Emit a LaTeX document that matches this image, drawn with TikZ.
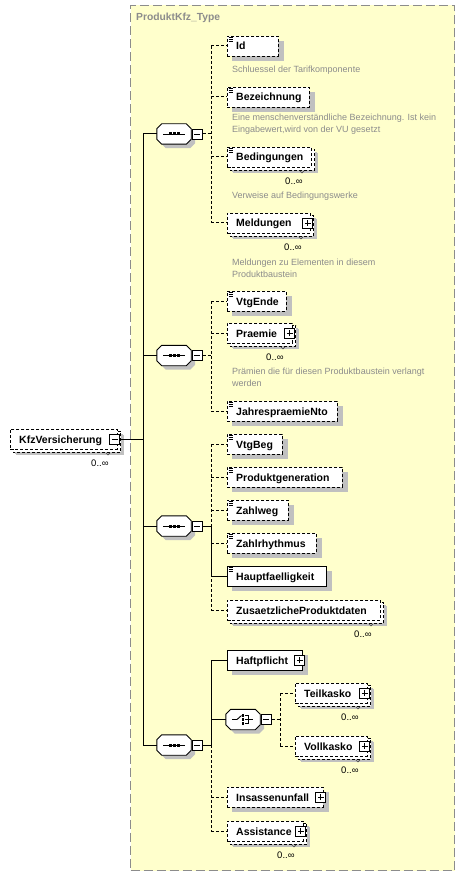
\documentclass[tikz,border=0pt]{standalone}
\usepackage{fontspec}
\setmainfont{Liberation Sans}
\usetikzlibrary{calc}
\definecolor{bgyellow}{HTML}{FFFFCC}
\definecolor{shadowc}{HTML}{C0C0C0}
\definecolor{descc}{HTML}{8C8C8C}
\definecolor{framec}{HTML}{8C8C8C}
\pgfdeclarelayer{bglayer}\pgfdeclarelayer{shadowlayer}\pgfdeclarelayer{backlayer}
\pgfsetlayers{bglayer,shadowlayer,backlayer,main}
\tikzset{
  ebox/.style={draw=black, fill=white, minimum height=20pt, inner sep=0pt, anchor=west, line width=0.9pt},
  opt/.style={dash pattern=on 3pt off 2pt},
  etext/.style={anchor=west, inner sep=0pt, font=\fontsize{10.5}{12}\selectfont\bfseries, text height=8pt, text depth=0pt},
  desc/.style={anchor=west, inner sep=0pt, align=left, font=\fontsize{9}{12}\selectfont, text=descc},
  mult/.style={inner sep=0pt, font=\fontsize{9.5}{11}\selectfont},
  conn/.style={line width=1pt},
  pm/.style={draw=black, fill=white, minimum size=10pt, inner sep=0pt, line width=0.9pt},
  octbox/.style={minimum width=34pt, minimum height=20pt, inner sep=0pt}
}
\newcommand\octpath[3]{($(#1.north west)+(5pt+#2,0pt-#3)$) -- ($(#1.north east)+(-5pt+#2,0pt-#3)$) -- ($(#1.north east)+(#2,-5pt-#3)$) -- ($(#1.south east)+(#2,5pt-#3)$) -- ($(#1.south east)+(-5pt+#2,0pt-#3)$) -- ($(#1.south west)+(5pt+#2,0pt-#3)$) -- ($(#1.south west)+(#2,5pt-#3)$) -- ($(#1.north west)+(#2,-5pt-#3)$) -- cycle}
\newcommand\minusb[2]{%
  \node[pm] (#1) at (#2) {};
  \draw[line width=0.9pt] ($(#1.center)+(-3pt,0pt)$) -- ($(#1.center)+(3pt,0pt)$);}
\newcommand\plusb[1]{%
  \node[pm] (#1-p) at ($(#1.east)+(-3pt,0pt)$) {};
  \draw[line width=0.9pt] ($(#1-p.center)+(-3pt,0pt)$) -- ($(#1-p.center)+(3pt,0pt)$)
    ($(#1-p.center)+(0pt,-3pt)$) -- ($(#1-p.center)+(0pt,3pt)$);}
\newcommand\octa[2]{%
  \node[octbox] (#1) at (#2) {};
  \begin{pgfonlayer}{shadowlayer}\fill[shadowc] \octpath{#1}{4pt}{4pt};\end{pgfonlayer}
  \draw[fill=white, line width=0.9pt] \octpath{#1}{0pt}{0pt};
  \minusb{#1-m}{$(#1.east)+(6pt,0pt)$}}
\newcommand\seqicon[1]{%
  \draw[line width=0.9pt] ($(#1.center)+(-11pt,0pt)$) -- ($(#1.center)+(11pt,0pt)$);
  \foreach \dx in {-4,0,4} \fill ($(#1.center)+(\dx pt-1.5pt,-1.5pt)$) rectangle ++(3pt,3pt);}
\newcommand\choiceicon[1]{%
  \draw[line width=0.9pt] ($(#1.center)+(-11pt,0pt)$) -- ($(#1.center)+(-6pt,0pt)$) -- ($(#1.center)+(-1.5pt,4pt)$);
  \foreach \dy in {-4,0,4} \fill ($(#1.center)+(-0.2pt,\dy pt)+(-1.2pt,-1.2pt)$) rectangle ++(2.4pt,2.4pt);
  \draw[line width=0.9pt] ($(#1.center)+(1.5pt,4pt)$) -- ($(#1.center)+(5pt,4pt)$) -- ($(#1.center)+(5pt,-4pt)$) -- ($(#1.center)+(1.5pt,-4pt)$)
    ($(#1.center)+(1.5pt,0pt)$) -- ($(#1.center)+(10pt,0pt)$);}
\newcommand\elem[5][]{%
  \node[ebox,minimum width=#4pt,#1] (#2) at (#3) {};
  \node[etext] (#2-t) at ([xshift=9pt]#2.west) {#5};
  \begin{pgfonlayer}{shadowlayer}
    \fill[shadowc] ($(#2.north west)+(5pt,-5pt)$) rectangle ($(#2.south east)+(5pt,-5pt)$);
  \end{pgfonlayer}}
\newcommand\multi[1]{%
  \begin{pgfonlayer}{shadowlayer}
    \fill[shadowc] ($(#1.north west)+(6pt,-6pt)$) rectangle ($(#1.south east)+(6pt,-6pt)$);
  \end{pgfonlayer}
  \begin{pgfonlayer}{backlayer}
    \draw[fill=white, opt, line width=0.9pt] ($(#1.north west)+(3pt,-3pt)$) rectangle ($(#1.south east)+(3pt,-3pt)$);
  \end{pgfonlayer}
  \draw[line width=0.6pt, black!70] ($(#1.south east)+(-12pt,-3.5pt)$) -- ($(#1.south east)+(-10pt,-5.5pt)$) -- ($(#1.south east)+(-8pt,-3.5pt)$);
  \node[mult] (#1-m) at ($(#1.south east)+(-18pt,-14pt)$) {0..∞};}
\newcommand\simp[1]{%
  \foreach \yy in {2,3.8,5.6} \draw[line width=0.6pt] ($(#1.north west)+(1.5pt,-\yy pt)$) -- ++(4.5pt,0pt);}
\begin{document}
\begin{tikzpicture}[x=1pt,y=-1pt]
\useasboundingbox (0,0) rectangle (465,877);
\begin{pgfonlayer}{bglayer}
  \fill[white] (0,0) rectangle (465,877);
  \node[draw=framec, fill=bgyellow, dash pattern=on 9pt off 4pt, line width=1pt,
        minimum width=324pt, minimum height=865pt, inner sep=0pt, anchor=north west] (ktype) at (130,5) {};
\end{pgfonlayer}
\node[anchor=west, inner sep=0pt, font=\fontsize{10.3}{12}\selectfont\bfseries, text=framec] (title) at (136,18) {ProduktKfz\_Type};

% root element
\elem[opt]{kfz}{10,439}{107}{KfzVersicherung}
\multi{kfz}
\minusb{kfz-mb}{$(kfz.east)+(-3pt,0pt)$}

% sequences
\octa{s1}{174,134}\seqicon{s1}
\octa{s2}{174,355.5}\seqicon{s2}
\octa{s3}{174,526}\seqicon{s3}
\octa{s4}{174,745}\seqicon{s4}

% spine
\coordinate (sp) at (143,439);
\draw[conn] (kfz-mb.east) -- (sp);
\draw[conn] (sp |- s1.west) -- (sp |- s4.west);
\foreach \s in {s1,s2,s3,s4} \draw[conn] (sp |- \s.west) -- (\s.west);

% sequence 1
\elem[opt]{id}{227,46}{51}{Id}\simp{id}
\elem[opt]{bez}{227,97}{82}{Bezeichnung}\simp{bez}
\elem[opt]{bed}{227,157}{84}{Bedingungen}\simp{bed}\multi{bed}
\elem[opt]{meld}{227,223}{83}{Meldungen}\multi{meld}\plusb{meld}
\node[desc] (id-d) at (232,70) {Schluessel der Tarifkomponente};
\node[desc] (bez-d) at (232,124) {Eine menschenverständliche Bezeichnung. Ist kein\\Eingabewert,wird von der VU gesetzt};
\node[desc] (bed-d) at (232,196) {Verweise auf Bedingungswerke};
\node[desc] (meld-d) at (232,268) {Meldungen zu Elementen in diesem\\Produktbaustein};
\coordinate (j1) at (211,134);
\draw[conn,opt] (s1-m.east) -- (j1);
\draw[conn,opt] (j1 |- id.west) -- (j1 |- meld.west);
\foreach \c in {id,bez,bed,meld} \draw[conn,opt] (j1 |- \c.west) -- (\c.west);

% sequence 2
\elem[opt]{vtgende}{227,301}{59}{VtgEnde}\simp{vtgende}
\elem[opt]{praemie}{227,333}{65}{Praemie}\multi{praemie}\plusb{praemie}
\elem[opt]{jahr}{227,411}{110}{JahrespraemieNto}\simp{jahr}
\node[desc] (pr-d) at (232,377.5) {Prämien die für diesen Produktbaustein verlangt\\werden};
\coordinate (j2) at (211,355.5);
\draw[conn,opt] (s2-m.east) -- (j2);
\draw[conn,opt] (j2 |- vtgende.west) -- (j2 |- jahr.west);
\foreach \c in {vtgende,praemie,jahr} \draw[conn,opt] (j2 |- \c.west) -- (\c.west);

% sequence 3
\elem[opt]{vtgbeg}{227,444}{55}{VtgBeg}\simp{vtgbeg}
\elem[opt]{prodgen}{227,477}{115}{Produktgeneration}\simp{prodgen}
\elem[opt]{zahlweg}{227,510}{61}{Zahlweg}\simp{zahlweg}
\elem[opt]{zahlr}{227,543}{89}{Zahlrhythmus}\simp{zahlr}
\elem{haupt}{227,576}{99}{Hauptfaelligkeit}\simp{haupt}
\elem[opt]{zusatz}{227,610}{153}{ZusaetzlicheProduktdaten}\multi{zusatz}
\coordinate (j3) at (211,526);
\draw[conn] (s3-m.east) -- (j3);
\draw[conn,opt] (j3 |- vtgbeg.west) -- (j3 |- zusatz.west);
\draw[conn] (j3) -- (j3 |- haupt.west) -- (haupt.west);
\foreach \c in {vtgbeg,prodgen,zahlweg,zahlr,zusatz} \draw[conn,opt] (j3 |- \c.west) -- (\c.west);

% sequence 4
\elem{haft}{227,660}{75}{Haftpflicht}\plusb{haft}
\octa{ch}{243,719.5}\choiceicon{ch}
\elem[opt]{teil}{295,693}{72}{Teilkasko}\multi{teil}\plusb{teil}
\elem[opt]{voll}{295,746}{72}{Vollkasko}\multi{voll}\plusb{voll}
\elem[opt]{insass}{227,797}{96}{Insassenunfall}\plusb{insass}
\elem[opt]{assist}{227,831}{76}{Assistance}\multi{assist}\plusb{assist}
\coordinate (j4) at (211,745);
\draw[conn] (s4-m.east) -- (j4);
\draw[conn] (j4 |- haft.west) -- (j4);
\draw[conn,opt] (j4) -- (j4 |- assist.west);
\draw[conn] (j4 |- haft.west) -- (haft.west);
\draw[conn] (j4 |- ch.west) -- (ch.west);
\foreach \c in {insass,assist} \draw[conn,opt] (j4 |- \c.west) -- (\c.west);
\coordinate (jc) at (280,719.5);
\draw[conn,opt] (ch-m.east) -- (jc);
\draw[conn,opt] (jc |- teil.west) -- (jc |- voll.west);
\foreach \c in {teil,voll} \draw[conn,opt] (jc |- \c.west) -- (\c.west);
\end{tikzpicture}
\end{document}
